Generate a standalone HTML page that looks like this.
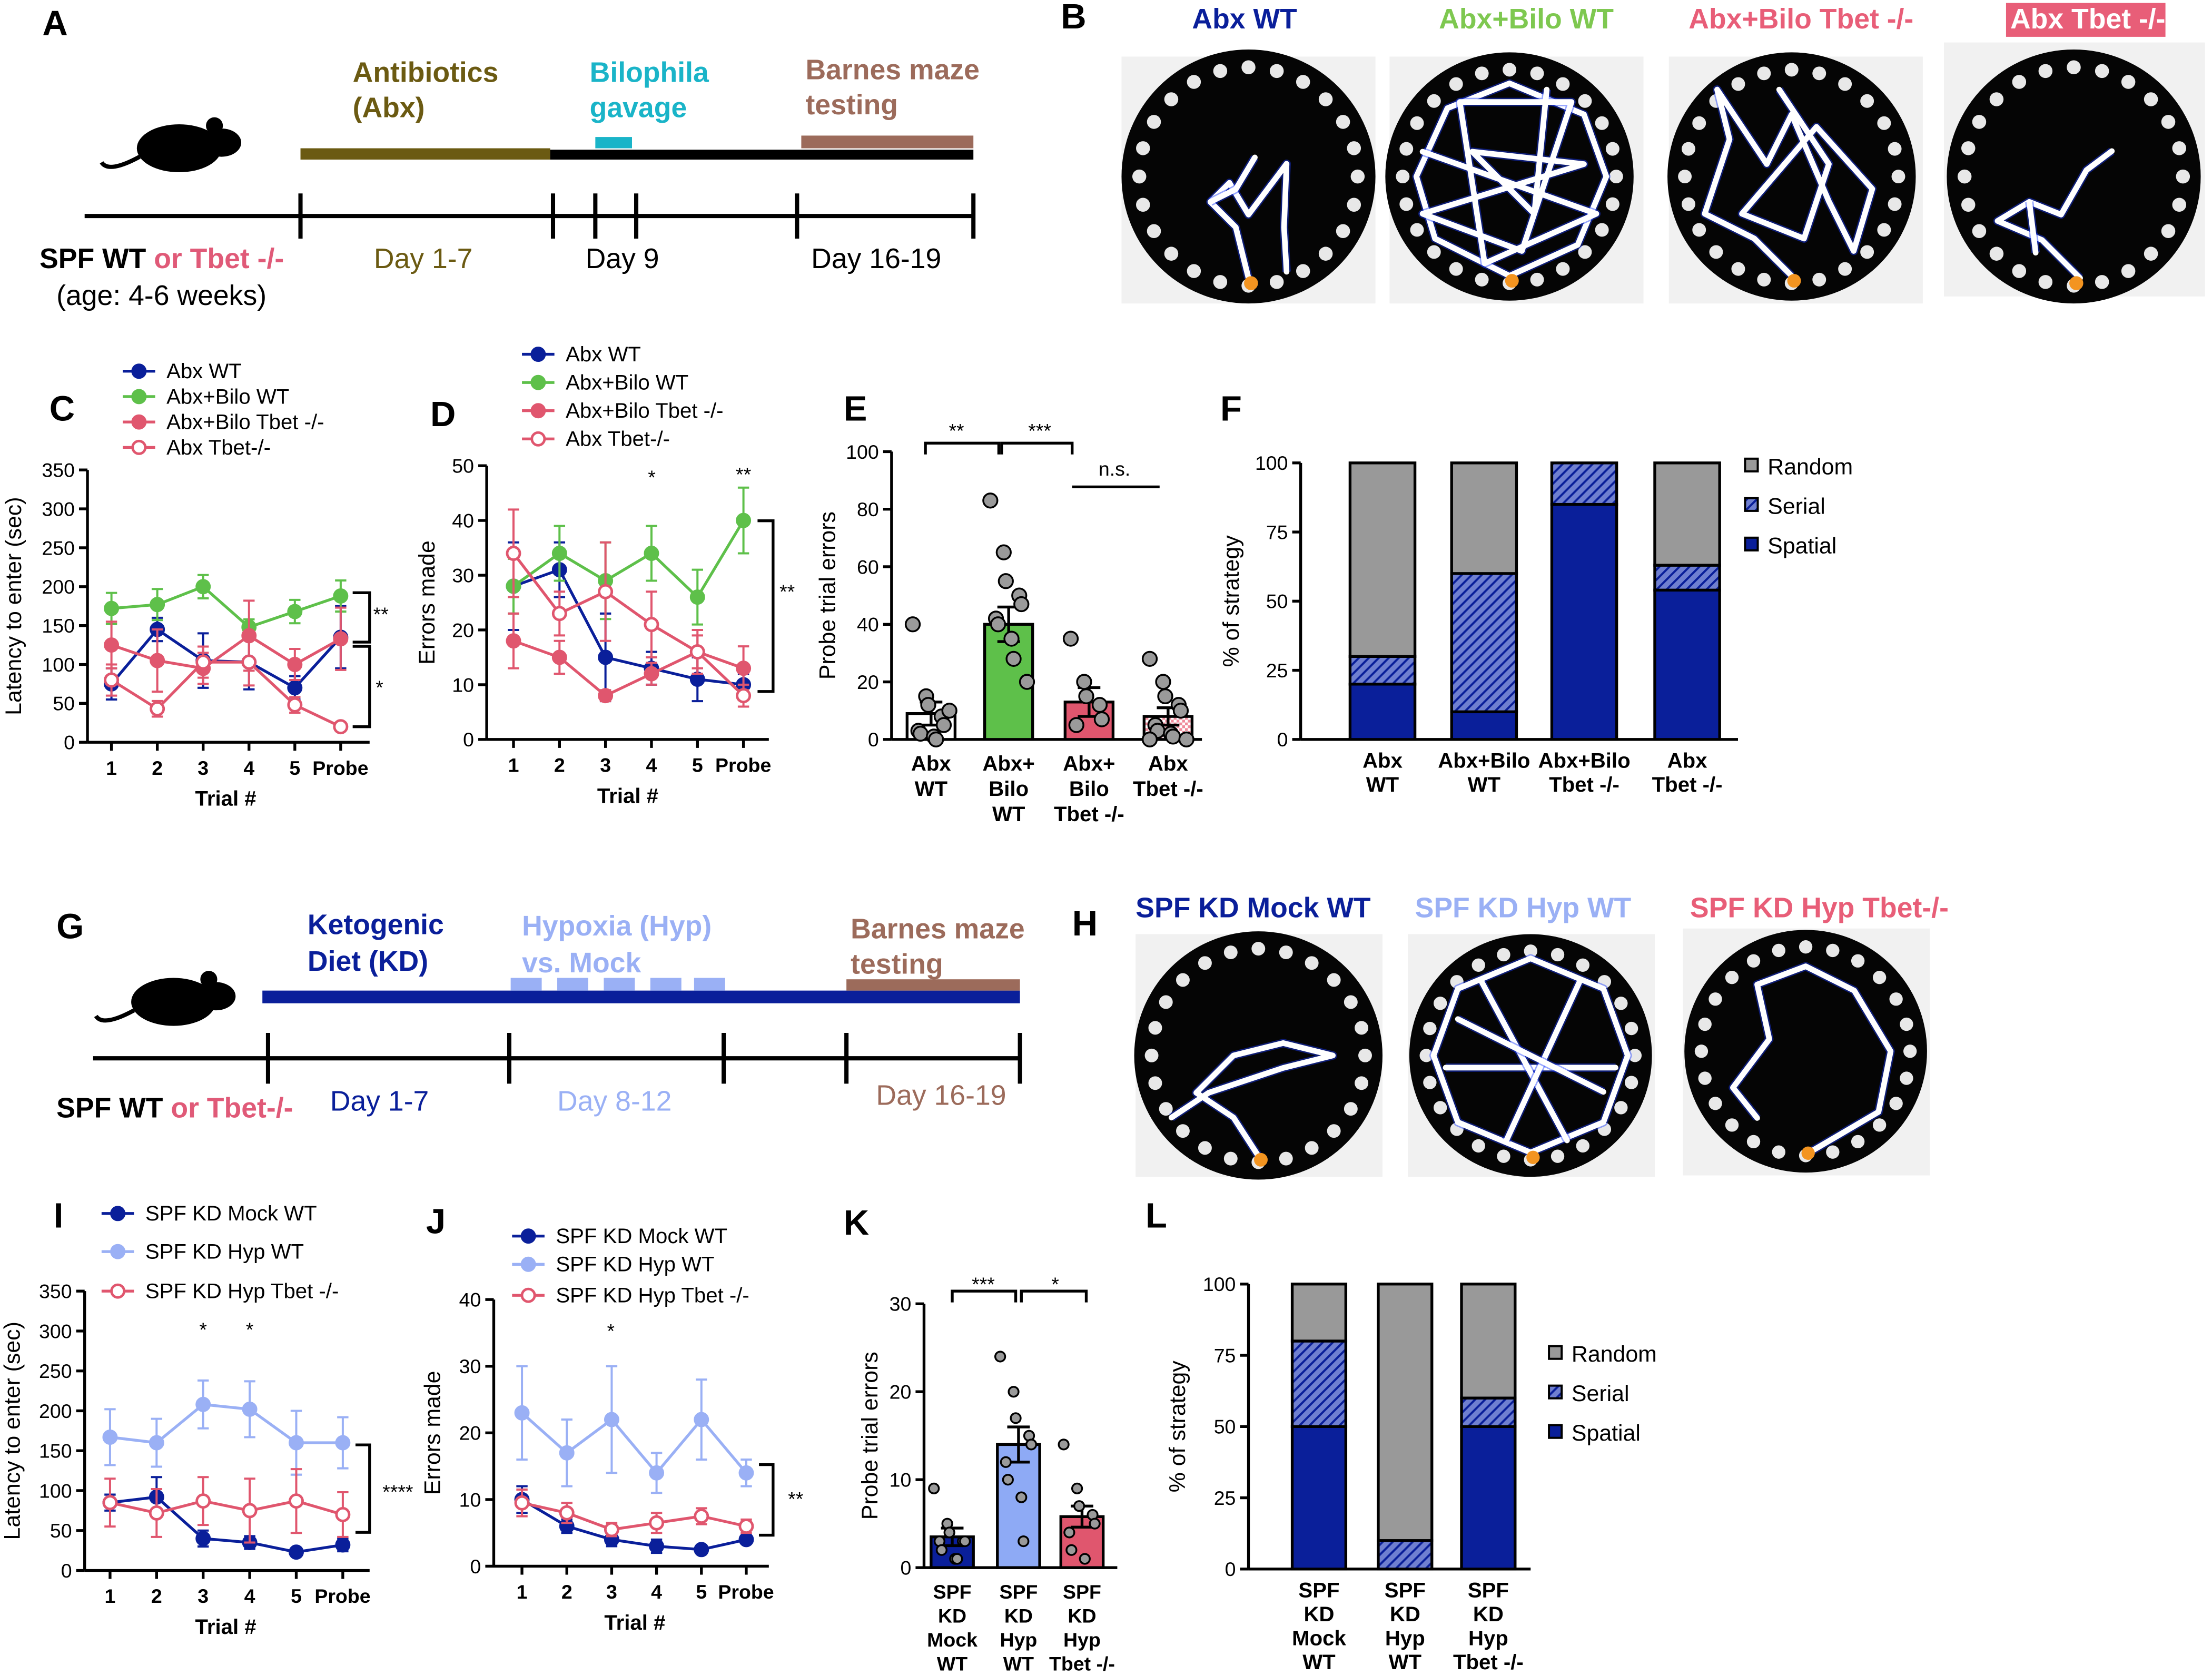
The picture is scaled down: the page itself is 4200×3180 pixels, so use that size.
<!DOCTYPE html>
<html><head><meta charset="utf-8">
<style>
html,body{margin:0;padding:0;background:#fff;}
svg{display:block;font-family:"Liberation Sans",Arial,sans-serif;}
</style></head>
<body>
<svg id="fig" width="4200" height="3180" viewBox="0 0 1568 1187" xmlns="http://www.w3.org/2000/svg">
<defs>
<pattern id="hatchBlue" patternUnits="userSpaceOnUse" width="5" height="5" patternTransform="rotate(45)">
<rect width="5" height="5" fill="#6f7fd0"/><line x1="0" y1="0" x2="0" y2="5" stroke="#0a1f9a" stroke-width="3"/>
</pattern>
<pattern id="hatchPink" patternUnits="userSpaceOnUse" width="4" height="4">
<rect width="4" height="4" fill="#fff"/><rect width="2" height="2" fill="#f08b9b"/><rect x="2" y="2" width="2" height="2" fill="#f08b9b"/>
</pattern>
</defs>
</svg>
<script>
// ===== Panel C data =====
const trialsC = ['1','2','3','4','5','Probe'];
const cAbxWT = [75,145,105,103,70,135];
const cAbxWTerr = [20,15,35,35,15,40];
const cBiloWT = [172,177,200,148,168,188];
const cBiloWTerr = [20,20,15,10,15,20];
const cBiloTbet = [125,105,95,137,100,133];
const cBiloTbetErr = [30,40,20,45,20,40];
const cAbxTbet = [80,43,103,103,48,20];
const cAbxTbetErr = [20,10,20,30,10,5];
const cTicks = [0,50,100,150,200,250,300,350];
// ===== Panel D data =====
const dAbxWT = [28,31,15,13,11,10];
const dAbxWTerr = [8,5,8,3,4,2];
const dBiloWT = [28,34,29,34,26,40];
const dBiloWTerr = [5,5,7,5,5,6];
const dBiloTbet = [18,15,8,12,16,13];
const dBiloTbetErr = [5,3,1,2,3,4];
const dAbxTbet = [34,23,27,21,16,8];
const dAbxTbetErr = [8,4,9,6,4,2];
const dTicks = [0,10,20,30,40,50];
// ===== Panel E data =====
const eGroups = [['Abx','WT'],['Abx+','Bilo','WT'],['Abx+','Bilo','Tbet -/-'],['Abx','Tbet -/-']];
const eMeans = [9,40,13,8];
const eSem = [4,6,5,3];
const ePoints = [[40,15,12,8,5,3,2,1,0,10],[83,65,55,50,47,42,40,35,28,20],[35,20,15,12,7,5],[28,20,15,12,10,5,3,2,1,0,0]];
const eTicks = [0,20,40,60,80,100];
// ===== Panel F data =====
const fGroups = [['Abx','WT'],['Abx+Bilo','WT'],['Abx+Bilo','Tbet -/-'],['Abx','Tbet -/-']];
const fSpatial = [20,10,85,54];
const fSerial = [10,50,15,9];
const fRandom = [70,40,0,37];
const fTicks = [0,25,50,75,100];
// ===== Panel I data =====
const iMock = [85,92,40,35,23,32];
const iMockErr = [10,25,10,8,4,8];
const iHyp = [167,160,208,202,160,160];
const iHypErr = [35,30,30,35,40,32];
const iTbet = [85,72,87,75,87,70];
const iTbetErr = [30,30,30,40,40,28];
const iTicks = [0,50,100,150,200,250,300,350];
// ===== Panel J data =====
const jMock = [10,6,4,3,2.5,4];
const jMockErr = [2,1,1,1,0.7,0.5];
const jHyp = [23,17,22,14,22,14];
const jHypErr = [7,5,8,3,6,2];
const jTbet = [9.5,8,5.5,6.5,7.5,6];
const jTbetErr = [2,1.5,1,1.5,1.2,1];
const jTicks = [0,10,20,30,40];
// ===== Panel K data =====
const kGroups = [['SPF','KD','Mock','WT'],['SPF','KD','Hyp','WT'],['SPF','KD','Hyp','Tbet -/-']];
const kMeans = [3.5,14,5.8];
const kSem = [1,2,1.2];
const kPoints = [[9,5,4,3,3,3,2,1,1],[24,20,17,15,14,12,10,8,3],[14,9,7,6,5,4,2,1]];
const kTicks = [0,10,20,30];
// ===== Panel L data =====
const lGroups = [['SPF','KD','Mock','WT'],['SPF','KD','Hyp','WT'],['SPF','KD','Hyp','Tbet -/-']];
const lSpatial = [50,0,50];
const lSerial = [30,10,10];
const lRandom = [20,90,40];
const lTicks = [0,25,50,75,100];

const NAVY='#0a1f9a', GREEN='#5ec04a', PINK='#e0566e', LBLUE='#9ab0f5', BROWN='#9c6b5b', OLIVE='#6b5a12', CYAN='#1ab4c8';
const NS='http://www.w3.org/2000/svg';
const svg=document.getElementById('fig');
function el(tag,attrs,parent){const e=document.createElementNS(NS,tag);for(const k in attrs)e.setAttribute(k,attrs[k]);(parent||svg).appendChild(e);return e;}
function txt(x,y,s,attrs,parent){const t=el('text',Object.assign({x:x,y:y},attrs||{}),parent);t.textContent=s;return t;}
function grp(name){const g=el('g',{});return g;}

function yAxis(g,x,yTop,yBot,ticks,vmax,title,tx){
  const a=el('line',{x1:x,y1:yTop,x2:x,y2:yBot,stroke:'#000','stroke-width':2},g);
  
  
  ticks.forEach(v=>{const y=yBot-(v/vmax)*(yBot-yTop);
    const t=el('line',{x1:x-6,y1:y,x2:x,y2:y,stroke:'#000','stroke-width':2},g);
    
    
    const l=txt(x-9,y+5,String(v),{'font-size':14,'text-anchor':'end'},g);
    
    
  });
  const yt=txt(0,0,title,{'font-size':16,'text-anchor':'middle',transform:`translate(${tx},${(yTop+yBot)/2}) rotate(-90)`},g);
  
  
}

function lineChart(name,cfg){
  const g=grp(name);
  const yS=v=>cfg.yBot-(v/cfg.vmax)*(cfg.yBot-cfg.yTop);
  const xS=i=>cfg.x1+i*cfg.step;
  yAxis(g,cfg.x0,cfg.yTop,cfg.yBot,cfg.ticks,cfg.vmax,cfg.ytitle,cfg.ytx);
  const xa=el('line',{x1:cfg.x0,y1:cfg.yBot,x2:cfg.xEnd,y2:cfg.yBot,stroke:'#000','stroke-width':2},g);
  
  
  trialsC.forEach((c,i)=>{
    const t=el('line',{x1:xS(i),y1:cfg.yBot,x2:xS(i),y2:cfg.yBot+6,stroke:'#000','stroke-width':2},g);
    
    
    const l=txt(c==='Probe'?xS(i)-20:xS(i),cfg.yBot+23,c,{'font-size':14,'font-weight':'bold','text-anchor':c==='Probe'?'start':'middle'},g);
    
    
  });
  const xt=txt(cfg.xTitleX,cfg.yBot+45,'Trial #',{'font-size':15,'font-weight':'bold','text-anchor':'middle'},g);
  
  
  cfg.series.forEach(s=>{
    const sg=el('g',{},g);
    
    
    s.vals.forEach((v,i)=>{
      const e=el('path',{d:`M${xS(i)},${yS(v+s.err[i])}V${yS(Math.max(0,v-s.err[i]))}M${xS(i)-4},${yS(v+s.err[i])}h8M${xS(i)-4},${yS(Math.max(0,v-s.err[i]))}h8`,stroke:s.color,'stroke-width':1.5,fill:'none'},sg);
      
      
    });
    const pl=el('polyline',{points:s.vals.map((v,i)=>xS(i)+','+yS(v)).join(' '),fill:'none',stroke:s.color,'stroke-width':2},sg);
    
    
    s.vals.forEach((v,i)=>{
      const p=el('circle',{cx:xS(i),cy:yS(v),r:4.5,fill:s.open?'#fff':s.color,stroke:s.color,'stroke-width':1.8},sg);
      
      
    });
  });
  cfg.legend.forEach((s,i)=>{
    const y=cfg.legY[i];
    const lg=el('g',{},g);
    
    
    el('line',{x1:cfg.legX,y1:y,x2:cfg.legX+23,y2:y,stroke:s.color,'stroke-width':2},lg);
    el('circle',{cx:cfg.legX+11.5,cy:y,r:4.5,fill:s.open?'#fff':s.color,stroke:s.color,'stroke-width':1.8},lg);
    txt(cfg.legX+31,y+5,s.label,{'font-size':15},lg);
  });
  return g;
}

function sig(g,x,y,s,name){const t=txt(x,y,s,{'font-size':14,'text-anchor':'middle'},g);}
function bracketR(g,x1,x2,y1,y2){const p=el('path',{d:`M${x1},${y1}H${x2}V${y2}H${x1}`,stroke:'#000','stroke-width':2,fill:'none'},g);}
function bracketT(g,x1,x2,y,name){const p=el('path',{d:`M${x1},${y+8}V${y}H${x2}V${y+8}`,stroke:'#000','stroke-width':2,fill:'none'},g);}
function letter(x,y,s){const t=txt(x,y,s,{'font-size':25,'font-weight':'bold'});}

// ===== Panel C =====
const gC=lineChart('panel-c-latency-chart',{x0:62,xEnd:262,yTop:333,yBot:526,vmax:350,ticks:cTicks,x1:79,step:32.5,ytitle:'Latency to enter (sec)',ytx:15,xTitleX:160,
 series:[{key:'abx-wt',vals:cAbxWT,err:cAbxWTerr,color:NAVY},{key:'abx-bilo-wt',vals:cBiloWT,err:cBiloWTerr,color:GREEN},{key:'abx-bilo-tbet',vals:cBiloTbet,err:cBiloTbetErr,color:PINK},{key:'abx-tbet',vals:cAbxTbet,err:cAbxTbetErr,color:PINK,open:true}],
 legend:[{label:'Abx WT',color:NAVY},{label:'Abx+Bilo WT',color:GREEN},{label:'Abx+Bilo Tbet -/-',color:PINK},{label:'Abx Tbet-/-',color:PINK,open:true}],legX:87,legY:[263,281,299,317]});
bracketR(gC,250,262,420,455);sig(gC,270,440,'**','sig-probe-green');
bracketR(gC,250,262,458,515);sig(gC,269,492,'*','sig-probe-pink');

// ===== Panel D =====
const gD=lineChart('panel-d-errors-chart',{x0:345,xEnd:545,yTop:330,yBot:524,vmax:50,ticks:dTicks,x1:364,step:32.6,ytitle:'Errors made',ytx:308,xTitleX:445,
 series:[{key:'abx-wt',vals:dAbxWT,err:dAbxWTerr,color:NAVY},{key:'abx-bilo-wt',vals:dBiloWT,err:dBiloWTerr,color:GREEN},{key:'abx-bilo-tbet',vals:dBiloTbet,err:dBiloTbetErr,color:PINK},{key:'abx-tbet',vals:dAbxTbet,err:dAbxTbetErr,color:PINK,open:true}],
 legend:[{label:'Abx WT',color:NAVY},{label:'Abx+Bilo WT',color:GREEN},{label:'Abx+Bilo Tbet -/-',color:PINK},{label:'Abx Tbet-/-',color:PINK,open:true}],legX:370,legY:[251,271,291,311]});
sig(gD,462,343,'*','sig-trial4');sig(gD,527,341,'**','sig-probe');
bracketR(gD,537,548,369,490);sig(gD,558,424,'**','sig-bracket');

// ===== Bar/scatter chart =====
function barChart(name,cfg){
  const g=grp(name);
  const yS=v=>cfg.yBot-(v/cfg.vmax)*(cfg.yBot-cfg.yTop);
  yAxis(g,cfg.x0,cfg.yTop,cfg.yBot,cfg.ticks,cfg.vmax,cfg.ytitle,cfg.ytx);
  const xa=el('line',{x1:cfg.x0,y1:cfg.yBot,x2:cfg.xEnd,y2:cfg.yBot,stroke:'#000','stroke-width':2},g);
  
  
  cfg.means.forEach((m,i)=>{
    const cx=cfg.cx[i];
    const b=el('rect',{x:cx-cfg.w/2,y:yS(m),width:cfg.w,height:cfg.yBot-yS(m),fill:cfg.fills[i],stroke:'#000','stroke-width':2},g);
    
    
    const e=el('path',{d:`M${cx},${yS(m+cfg.sem[i])}V${yS(Math.max(0,m-cfg.sem[i]))}M${cx-8},${yS(m+cfg.sem[i])}h16M${cx-8},${yS(m-cfg.sem[i])}h16`,stroke:'#000','stroke-width':2,fill:'none'},g);
    
    
    cfg.points[i].forEach((v,j)=>{
      const off=((j%5)-2)*5.5+((j%2)?2:-2);
      const p=el('circle',{cx:cx+off,cy:yS(v),r:cfg.r,fill:'#9a9a9a',stroke:'#000','stroke-width':1.3},g);
      
      
    });
    cfg.groups[i].forEach((s,k)=>{
      const t=txt(cx,cfg.yBot+22+k*cfg.lh,s,{'font-size':cfg.fs,'font-weight':'bold','text-anchor':'middle'},g);
      
      
    });
  });
  return g;
}
const gE=barChart('panel-e-probe-errors',{x0:632,xEnd:852,yTop:320,yBot:524,vmax:100,ticks:eTicks,ytitle:'Probe trial errors',ytx:592,cx:[660,715,772,828],w:34,r:5,means:eMeans,sem:eSem,points:ePoints,groups:eGroups,fills:['#fff',GREEN,PINK,'url(#hatchPink)'],fs:15,lh:18});
bracketT(gE,656,708,314,'sig-bracket-1');sig(gE,678,310,'**','sig-label-1');
bracketT(gE,710,760,314,'sig-bracket-2');sig(gE,737,310,'***','sig-label-2');
const ns=el('line',{x1:760,y1:345,x2:822,y2:345,stroke:'#000','stroke-width':2},gE);
sig(gE,790,337,'n.s.','sig-label-ns');

const gK=barChart('panel-k-probe-errors',{x0:655,xEnd:792,yTop:924,yBot:1111,vmax:30,ticks:kTicks,ytitle:'Probe trial errors',ytx:622,cx:[675,722,767],w:30,r:3.5,means:kMeans,sem:kSem,points:kPoints,groups:kGroups,fills:[NAVY,'#8eaaf5',PINK],fs:14,lh:17});
bracketT(gK,675,720,915,'sig-bracket-1');sig(gK,697,915,'***','sig-label-1');
bracketT(gK,724,770,915,'sig-bracket-2');sig(gK,748,915,'*','sig-label-2');

// ===== Stacked bars =====
function stackChart(name,cfg){
  const g=grp(name);
  const yS=v=>cfg.yBot-(v/100)*(cfg.yBot-cfg.yTop);
  yAxis(g,cfg.x0,cfg.yTop,cfg.yBot,cfg.ticks,100,'% of strategy',cfg.ytx);
  const xa=el('line',{x1:cfg.x0,y1:cfg.yBot,x2:cfg.xEnd,y2:cfg.yBot,stroke:'#000','stroke-width':2},g);
  
  
  cfg.spatial.forEach((sp,i)=>{
    const cx=cfg.cx[i];
    const segs=[[0,sp,NAVY,'spatial'],[sp,sp+cfg.serial[i],'url(#hatchBlue)','serial'],[sp+cfg.serial[i],sp+cfg.serial[i]+cfg.random[i],'#999','random']];
    segs.forEach(s=>{ if(s[1]-s[0]<=0) return;
      const r=el('rect',{x:cx-cfg.w/2,y:yS(s[1]),width:cfg.w,height:yS(s[0])-yS(s[1]),fill:s[2],stroke:'#000','stroke-width':2},g);
      
      
    });
    cfg.groups[i].forEach((s,k)=>{
      const t=txt(cx,cfg.yBot+20+k*cfg.lh,s,{'font-size':15,'font-weight':'bold','text-anchor':'middle'},g);
      
      
    });
  });
  [['Random','#999'],['Serial','url(#hatchBlue)'],['Spatial',NAVY]].forEach((L,k)=>{
    const lg=el('g',{},g);
    
    
    el('rect',{x:cfg.legX,y:cfg.legY[k]-5,width:9,height:9,fill:L[1],stroke:'#000','stroke-width':1.5},lg);
    txt(cfg.legX+16,cfg.legY[k]+6,L[0],{'font-size':16},lg);
  });
}
stackChart('panel-f-strategy',{x0:922,xEnd:1232,yTop:328,yBot:524,ticks:fTicks,ytx:878,cx:[980,1052,1123,1196],w:46,spatial:fSpatial,serial:fSerial,random:fRandom,groups:fGroups,lh:17,legX:1237,legY:[330,358,386]});
stackChart('panel-l-strategy',{x0:885,xEnd:1085,yTop:910,yBot:1112,ticks:lTicks,ytx:840,cx:[935,996,1055],w:38,spatial:lSpatial,serial:lSerial,random:lRandom,groups:lGroups,lh:17,legX:1098,legY:[959,987,1015]});

// ===== Panel I =====
const gI=lineChart('panel-i-latency-chart',{x0:60,xEnd:262,yTop:915,yBot:1113,vmax:350,ticks:iTicks,x1:78,step:33,ytitle:'Latency to enter (sec)',ytx:14,xTitleX:160,
 series:[{key:'mock-wt',vals:iMock,err:iMockErr,color:NAVY},{key:'hyp-wt',vals:iHyp,err:iHypErr,color:LBLUE},{key:'hyp-tbet',vals:iTbet,err:iTbetErr,color:PINK,open:true}],
 legend:[{label:'SPF KD Mock WT',color:NAVY},{label:'SPF KD Hyp WT',color:LBLUE},{label:'SPF KD Hyp Tbet -/-',color:PINK,open:true}],legX:72,legY:[860,887,915]});
sig(gI,144,947,'*','sig-trial3');sig(gI,177,947,'*','sig-trial4');
bracketR(gI,252,262,1024,1086);sig(gI,282,1062,'****','sig-bracket');

// ===== Panel J =====
const gJ=lineChart('panel-j-errors-chart',{x0:350,xEnd:545,yTop:921,yBot:1110,vmax:40,ticks:jTicks,x1:370,step:31.8,ytitle:'Errors made',ytx:312,xTitleX:450,
 series:[{key:'mock-wt',vals:jMock,err:jMockErr,color:NAVY},{key:'hyp-wt',vals:jHyp,err:jHypErr,color:LBLUE},{key:'hyp-tbet',vals:jTbet,err:jTbetErr,color:PINK,open:true}],
 legend:[{label:'SPF KD Mock WT',color:NAVY},{label:'SPF KD Hyp WT',color:LBLUE},{label:'SPF KD Hyp Tbet -/-',color:PINK,open:true}],legX:363,legY:[876,896,918]});
sig(gJ,433,948,'*','sig-trial3');
bracketR(gJ,538,548,1038,1088);sig(gJ,564,1067,'**','sig-bracket');

// ===== Timelines =====
function mouse(x,y){const g=grp('mouse-icon');
  el('ellipse',{cx:x+55,cy:y,rx:30,ry:17,fill:'#000'},g);
  el('ellipse',{cx:x+85,cy:y-4,rx:14,ry:10,fill:'#000'},g);
  el('circle',{cx:x+80,cy:y-16,r:6,fill:'#000'},g);
  el('path',{d:`M${x+27},${y+6}Q${x+5},${y+18} ${x},${y+10}`,stroke:'#000','stroke-width':3,fill:'none'},g);
}
// Panel A
const gA=grp('panel-a-timeline');
mouse(72,105);
[[213,105,177,8,OLIVE,'antibiotics-bar'],[390,106,300,7,'#000','timeline-bar'],[422,97,26,8,CYAN,'bilophila-bar'],[568,96,122,9,BROWN,'barnes-bar']].forEach(b=>{
  const r=el('rect',{x:b[0],y:b[1],width:b[2],height:b[3],fill:b[4]},gA);});
const axA=el('line',{x1:60,y1:153,x2:690,y2:153,stroke:'#000','stroke-width':3},gA);
[213,392,422,451,565,690].forEach(x=>{const t=el('line',{x1:x,y1:137,x2:x,y2:169,stroke:'#000','stroke-width':3},gA);});
function label(g,x,y,s,color,bold,name,size){const t=txt(x,y,s,{'font-size':size||20,'font-weight':bold?'bold':'normal',fill:color},g);return t;}
label(gA,250,58,'Antibiotics',OLIVE,1,'antibiotics-label');label(gA,250,83,'(Abx)',OLIVE,1,'antibiotics-label-2');
label(gA,418,58,'Bilophila',CYAN,1,'bilophila-label');label(gA,418,83,'gavage',CYAN,1,'bilophila-label-2');
label(gA,571,56,'Barnes maze',BROWN,1,'barnes-label');label(gA,571,81,'testing',BROWN,1,'barnes-label-2');
const sp=txt(28,190,'',{'font-size':20,'font-weight':'bold'},gA);
sp.innerHTML='SPF WT <tspan fill="#e05a78">or Tbet -/-</tspan>';
label(gA,40,216,'(age: 4-6 weeks)','#000',0,'age-label');
label(gA,265,190,'Day 1-7',OLIVE,0,'day-1-7');label(gA,415,190,'Day 9','#000',0,'day-9');label(gA,575,190,'Day 16-19','#000',0,'day-16-19');
// Panel G
const gG=grp('panel-g-timeline');
mouse(68,710);
[[186,702,537,9,NAVY,'kd-bar'],[600,694,123,8,BROWN,'barnes-bar']].forEach(b=>{const r=el('rect',{x:b[0],y:b[1],width:b[2],height:b[3],fill:b[4]},gG);});
[362,395,428,461,492].forEach(x=>{const r=el('rect',{x:x,y:693,width:22,height:9,fill:LBLUE},gG);});
const axG=el('line',{x1:66,y1:750,x2:723,y2:750,stroke:'#000','stroke-width':3},gG);
[190,361,513,600,723].forEach(x=>{const t=el('line',{x1:x,y1:732,x2:x,y2:768,stroke:'#000','stroke-width':3},gG);});
label(gG,218,662,'Ketogenic',NAVY,1,'kd-label');label(gG,218,688,'Diet (KD)',NAVY,1,'kd-label-2');
label(gG,370,663,'Hypoxia (Hyp)',LBLUE,1,'hypoxia-label');label(gG,370,689,'vs. Mock',LBLUE,1,'hypoxia-label-2');
label(gG,603,665,'Barnes maze',BROWN,1,'barnes-label');label(gG,603,690,'testing',BROWN,1,'barnes-label-2');
const sg2=txt(40,792,'',{'font-size':20,'font-weight':'bold'},gG);
sg2.innerHTML='SPF WT <tspan fill="#e05a78">or Tbet-/-</tspan>';
label(gG,234,787,'Day 1-7',NAVY,0,'day-1-7');label(gG,395,787,'Day 8-12',LBLUE,0,'day-8-12');label(gG,621,783,'Day 16-19',BROWN,0,'day-16-19');

// ===== Mazes =====
function maze(name,cx,cy,r,paths,bgX,bgY,bgW,bgH){
  const g=grp(name);
  el('rect',{x:bgX,y:bgY,width:bgW,height:bgH,fill:'#f1f1f1'},g);
  el('circle',{cx:cx,cy:cy,r:r,fill:'#050505'},g);
  for(let k=0;k<24;k++){const a=k/24*2*Math.PI;el('circle',{cx:cx+Math.cos(a)*r*0.86,cy:cy+Math.sin(a)*r*0.86,r:r*0.055,fill:'#e8e8e8'},g);}
  paths.forEach(p=>{
    el('polyline',{points:p.map(q=>(cx+q[0]*r)+','+(cy+q[1]*r)).join(' '),fill:'none',stroke:'#1a3cff','stroke-width':6,'stroke-linejoin':'round',opacity:0.45},g);
    el('polyline',{points:p.map(q=>(cx+q[0]*r)+','+(cy+q[1]*r)).join(' '),fill:'none',stroke:'#fff','stroke-width':4,'stroke-linejoin':'round','stroke-linecap':'round'},g);
  });
  el('circle',{cx:cx+0.02*r,cy:cy+0.84*r,r:r*0.055,fill:'#f39420'},g);
}
const gB=grp('panel-b-mazes');
maze('maze-abx-wt',885,125,90,[[[0,0.8],[-0.1,0.4],[-0.3,0.2],[-0.15,0.05],[0,0.3],[0.15,0.1],[0.3,-0.1],[0.28,0.4],[0.3,0.75]],[[-0.3,0.2],[-0.1,0.1],[0.05,-0.15]]],795,40,180,175);
maze('maze-abx-bilo-wt',1070,125,88,[[[0,0.8],[-0.6,0.5],[-0.75,0],[-0.5,-0.55],[0,-0.75],[0.6,-0.5],[0.78,0],[0.55,0.55],[0,0.8]],[[-0.7,-0.2],[0.7,0.3],[-0.2,0.7],[-0.4,-0.6],[0.5,-0.6],[0.1,0.6],[-0.7,0.3],[0.6,-0.1],[-0.3,-0.2],[0.2,0.3],[0.3,-0.7]]],985,40,180,175);
maze('maze-abx-bilo-tbet',1270,125,88,[[[0,0.8],[-0.3,0.5],[-0.7,0.3],[-0.5,-0.3],[-0.6,-0.7],[-0.2,-0.1],[0,-0.5],[0.3,0.2],[0.5,0.6],[0.65,0.1],[0.2,-0.4],[-0.4,0.3],[0.1,0.5],[0.3,-0.1],[-0.1,-0.7]]],1183,40,180,175);
maze('maze-abx-tbet',1470,125,90,[[[0.05,0.8],[-0.25,0.5],[-0.6,0.35],[-0.35,0.2],[-0.1,0.3],[0.1,-0.05],[0.3,-0.2]],[[-0.35,0.2],[-0.3,0.6]]],1378,30,185,180);
const tB=[[845,20,'Abx WT',NAVY],[1020,20,'Abx+Bilo WT','#7ec850'],[1197,20,'Abx+Bilo Tbet -/-','#e85e78']];
tB.forEach(t=>{label(gB,t[0],t[1],t[2],t[3],1,'maze-title');});
const bx=el('rect',{x:1422,y:2,width:113,height:24,fill:'#e85e78'},gB);
label(gB,1425,20,'Abx Tbet -/-','#fff',1,'maze-title');
const gH=grp('panel-h-mazes');
maze('maze-kd-mock-wt',892,748,88,[[[0.02,0.84],[-0.2,0.5],[-0.5,0.3],[-0.2,0],[0.2,-0.1],[0.6,0],[0.2,0.1],[-0.4,0.3],[-0.7,0.5]]],805,662,175,172);
maze('maze-kd-hyp-wt',1085,748,86,[[[0,0.8],[-0.6,0.55],[-0.8,0],[-0.6,-0.55],[0,-0.8],[0.6,-0.55],[0.8,0],[0.6,0.55],[0,0.8]],[[-0.7,0.1],[0.7,0.1]],[[-0.4,-0.6],[0.3,0.7]],[[0.4,-0.6],[-0.2,0.7]],[[-0.6,-0.3],[0.6,0.3]]],998,662,175,172);
maze('maze-kd-hyp-tbet',1280,745,86,[[[0.02,0.84],[0.6,0.5],[0.7,0],[0.4,-0.5],[0,-0.7],[-0.4,-0.55],[-0.3,-0.1],[-0.6,0.3],[-0.4,0.55]]],1193,658,175,175);
[[805,650,'SPF KD Mock WT',NAVY],[1003,650,'SPF KD Hyp WT',LBLUE],[1198,650,'SPF KD Hyp Tbet-/-','#e85e78']].forEach(t=>{label(gH,t[0],t[1],t[2],t[3],1,'maze-title');});

// ===== Panel letters =====
letter(30,25,'A');letter(752,20,'B');letter(35,298,'C');letter(305,302,'D');letter(598,298,'E');letter(865,298,'F');
letter(40,665,'G');letter(760,663,'H');letter(38,870,'I');letter(302,874,'J');letter(598,875,'K');letter(812,870,'L');
</script>
</body></html>
